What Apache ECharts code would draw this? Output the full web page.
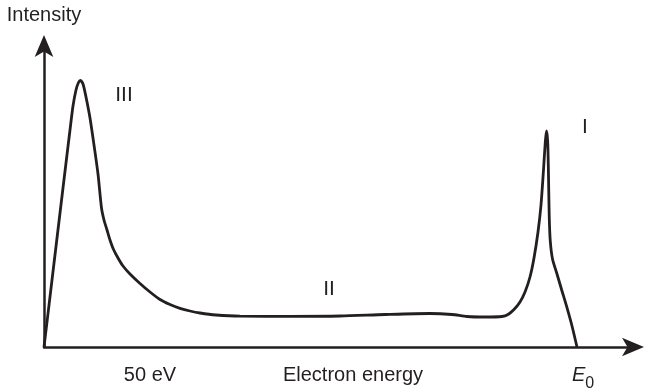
<!DOCTYPE html>
<html>
<head>
<meta charset="utf-8">
<script src="https://cdn.jsdelivr.net/npm/echarts@6/dist/echarts.min.js"></script>
<style>
  html, body { margin: 0; padding: 0; background: #ffffff; }
  #chart { width: 645px; height: 389px; }
</style>
</head>
<body>
<div id="chart"></div>
<script>
// Electron energy (arbitrary units, 0 at origin)
const energy = [0, 8, 16, 22, 26, 29, 32, 34.5, 36.5, 39, 42, 46, 50, 54, 57.5, 60, 63, 66, 69.3, 74, 79, 86, 96, 106, 116, 126, 136, 146, 156, 172, 196, 246, 296, 341, 386, 408, 423, 441, 458, 464, 470, 476, 481, 486, 490, 494, 497, 499.5, 501.3, 502.5, 503.7, 504.4, 505.2, 506.2, 508.5, 512.7, 517.7, 522.7, 528, 533];
// Intensity (arbitrary units)
const intensity = [0, 67, 134, 184, 217, 241, 257, 264.5, 266.5, 263, 250, 229, 202, 173, 139, 127, 117, 107, 98, 89, 81, 73, 63.5, 55, 47.5, 42.5, 38.7, 36, 34, 32, 30.8, 30.7, 31, 32.5, 33.5, 32.5, 30.5, 30, 30.5, 32.5, 37.5, 45, 55, 70, 89, 115, 142, 177, 205, 216, 205, 177, 132, 107, 88, 74, 57, 40.3, 21, 0];

// x-axis tick positions and labels
const xTickValues = [106, 539];
const xTickLabels = ['50 eV', '{e|E}{sub|0}'];

// region annotations
const regionNames = ['III', 'II', 'I'];
const regionX = [80, 285, 541];
const regionY = [252, 58, 220];

const xMax = 589, yMax = 301;

const ink = '#231f20';
const font = '"Liberation Sans", Arial, Helvetica, sans-serif';

const chart = echarts.init(document.getElementById('chart'), null, { renderer: 'canvas' });

const lineData = energy.map((x, i) => [x, intensity[i]]);

chart.setOption({
  backgroundColor: '#ffffff',
  animation: false,
  textStyle: { fontFamily: font, color: ink },
  grid: { left: 44, right: 12, top: 46, bottom: 42, containLabel: false, outerBoundsMode: 'none' },
  xAxis: {
    type: 'value',
    min: 0,
    max: xMax,
    name: 'Electron energy',
    nameLocation: 'middle',
    nameGap: 18,
    nameMoveOverlap: false,
    nameTextStyle: { fontSize: 20, color: ink, fontFamily: font, padding: [0, 0, 0, 29], verticalAlign: 'top' },
    axisLine: { show: true, symbol: ['none', 'arrow'], symbolSize: [14, 22], symbolOffset: [0, 11], lineStyle: { color: ink, width: 2.5 } },
    axisTick: { show: false },
    splitLine: { show: false },
    axisLabel: {
      show: true,
      customValues: xTickValues,
      margin: 18,
      fontSize: 20,
      color: ink,
      fontFamily: font,
      verticalAlign: 'top',
      formatter: function (v) {
        const i = xTickValues.indexOf(v);
        return i >= 0 ? xTickLabels[i] : '';
      },
      rich: {
        e: { fontSize: 20, fontStyle: 'italic', color: ink, fontFamily: font, lineHeight: 20, verticalAlign: 'top' },
        sub: { fontSize: 16, color: ink, fontFamily: font, lineHeight: 27, verticalAlign: 'bottom' }
      }
    }
  },
  yAxis: {
    type: 'value',
    min: 0,
    max: yMax,
    name: 'Intensity',
    nameLocation: 'end',
    nameGap: 21,
    nameMoveOverlap: false,
    nameTextStyle: { fontSize: 20, color: ink, fontFamily: font },
    axisLine: { show: true, symbol: ['none', 'arrow'], symbolSize: [14, 22], symbolOffset: [0, 11], lineStyle: { color: ink, width: 2.5 } },
    axisTick: { show: false },
    axisLabel: { show: false },
    splitLine: { show: false }
  },
  series: [{
    type: 'line',
    data: lineData,
    showSymbol: false,
    symbol: 'none',
    smooth: 0.25,
    lineStyle: { color: ink, width: 2.8 },
    markPoint: {
      symbol: 'circle',
      symbolSize: 0,
      silent: true,
      label: { show: true, position: 'inside', formatter: '{b}', fontSize: 21, color: ink, fontFamily: font },
      data: regionNames.map((n, i) => ({ name: n, coord: [regionX[i], regionY[i]] }))
    }
  }]
});
</script>
</body>
</html>
